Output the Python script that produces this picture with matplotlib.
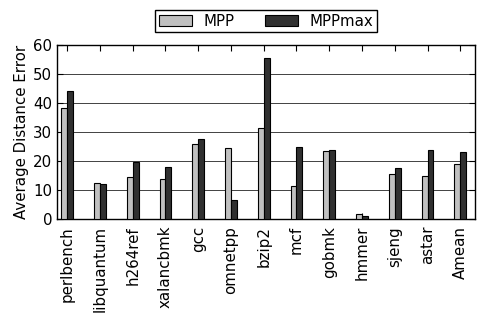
import numpy as np
import matplotlib
matplotlib.use('Agg')
import matplotlib.pyplot as plt

benchmarks = ['perlbench', 'libquantum', 'h264ref', 'xalancbmk', 'gcc', 'omnetpp',
              'bzip2', 'mcf', 'gobmk', 'hmmer', 'sjeng', 'astar', 'Amean']
mpp = [38.2, 12.5, 14.5, 13.8, 26.0, 24.6, 31.5, 11.3, 23.6, 1.8, 15.4, 14.7, 19.1]
mpp_max = [44.2, 11.9, 19.8, 17.9, 27.7, 6.5, 55.6, 24.9, 23.8, 1.0, 17.5, 23.8, 23.0]

plt.rcParams['font.family'] = 'DejaVu Sans'
plt.rcParams['font.size'] = 10.8

fig = plt.figure(figsize=(4.85, 3.2), dpi=100)
ax = fig.add_axes([57 / 485, 1 - 219 / 320, 418 / 485, 174 / 320])

x = np.arange(len(benchmarks))
w = 0.18
ax.bar(x - w, mpp, w, align='edge', color='#c0c0c0', edgecolor='black',
       linewidth=0.8, label='MPP', zorder=3)
ax.bar(x, mpp_max, w, align='edge', color='#303030', edgecolor='black',
       linewidth=0.8, label='MPPmax', zorder=3)

ax.set_xlim(-0.31, 12.45)
ax.set_ylim(0, 60)
ax.set_yticks([0, 10, 20, 30, 40, 50, 60])
ax.set_xticks(x)
ax.set_xticklabels(benchmarks, rotation=90)
ax.set_ylabel('Average Distance Error', labelpad=3)
ax.yaxis.grid(True, color='#222222', linewidth=0.6, zorder=0)
ax.tick_params(direction='in', top=True, right=True, length=4, width=0.8)
ax.tick_params(axis='x', pad=5)
for s in ax.spines.values():
    s.set_linewidth(1.0)

fig.legend(loc='center', bbox_to_anchor=(266 / 485, 1 - 21 / 320), ncol=2,
           fancybox=False, edgecolor='black', framealpha=1,
           handlelength=2.2, columnspacing=2.0, borderpad=0.25)

fig.savefig('out.png', dpi=100)
